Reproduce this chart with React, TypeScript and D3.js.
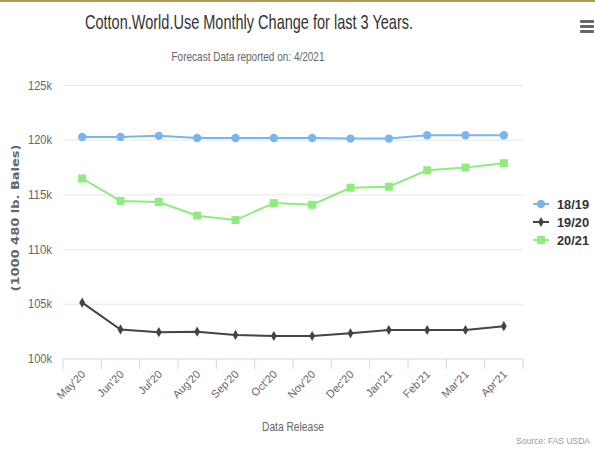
import React from 'react';
import * as d3 from 'd3';

const months = ["May'20", "Jun'20", "Jul'20", "Aug'20", "Sep'20", "Oct'20", "Nov'20", "Dec'20", "Jan'21", "Feb'21", "Mar'21", "Apr'21"];
const seriesNames = ['18/19', '19/20', '20/21'];
const use1819 = [120.3, 120.3, 120.4, 120.2, 120.2, 120.2, 120.2, 120.15, 120.15, 120.45, 120.45, 120.45];
const use1920 = [105.15, 102.7, 102.45, 102.5, 102.2, 102.1, 102.1, 102.35, 102.65, 102.65, 102.65, 103.0];
const use2021 = [116.5, 114.45, 114.35, 113.1, 112.7, 114.25, 114.1, 115.65, 115.75, 117.25, 117.5, 117.9];
const yTicks = [100, 105, 110, 115, 120, 125];
const colors = ['#7cb5ec', '#434348', '#90ed7d'];

const W = 595;
const H = 451;
const margin = { left: 63, right: 72, top: 85.5, bottom: 92 };

const font = '"Liberation Sans", Arial, sans-serif';

const App: React.FC = () => {
  const ref = React.useRef<SVGSVGElement>(null);

  React.useEffect(() => {
    const svg = d3.select(ref.current);
    svg.selectAll('*').remove();

    const x = d3.scaleBand().domain(months).range([margin.left, W - margin.right]);
    const y = d3.scaleLinear().domain([100, 125]).range([H - margin.bottom, margin.top]);
    const cx = (m: string) => (x(m) as number) + x.bandwidth() / 2;

    // top border
    svg.append('rect').attr('x', 0).attr('y', 0).attr('width', W).attr('height', 2).attr('fill', '#b5975a');

    // titles (condensed look via textLength)
    svg.append('text')
      .attr('x', 249).attr('y', 29)
      .attr('text-anchor', 'middle')
      .attr('font-family', font).attr('font-size', 21).attr('fill', '#333')
      .attr('textLength', 328).attr('lengthAdjust', 'spacingAndGlyphs')
      .text('Cotton.World.Use Monthly Change for last 3 Years.');
    svg.append('text')
      .attr('x', 248).attr('y', 61)
      .attr('text-anchor', 'middle')
      .attr('font-family', font).attr('font-size', 13).attr('fill', '#666')
      .attr('textLength', 153).attr('lengthAdjust', 'spacingAndGlyphs')
      .text('Forecast Data reported on: 4/2021');

    // menu icon
    [0, 5, 10].forEach(dy => {
      svg.append('rect').attr('x', 580).attr('y', 20 + dy).attr('width', 14).attr('height', 3)
        .attr('rx', 1).attr('fill', '#666');
    });

    // grid
    svg.append('g')
      .selectAll('line')
      .data(yTicks.filter(t => t !== 100))
      .join('line')
      .attr('x1', margin.left).attr('x2', W - margin.right)
      .attr('y1', d => y(d)).attr('y2', d => y(d))
      .attr('stroke', '#e6e6e6').attr('stroke-width', 1);

    // y axis labels
    svg.append('g')
      .selectAll('text')
      .data(yTicks)
      .join('text')
      .attr('x', 52).attr('y', d => y(d) + 4)
      .attr('text-anchor', 'end')
      .attr('font-family', font).attr('font-size', 12).attr('fill', '#666')
      .attr('textLength', 24).attr('lengthAdjust', 'spacingAndGlyphs')
      .text(d => `${d}k`);

    svg.append('text')
      .attr('transform', `translate(19, 218) rotate(-90)`)
      .attr('text-anchor', 'middle')
      .attr('font-family', 'Verdana, "DejaVu Sans", sans-serif').attr('font-size', 11)
      .attr('font-weight', 'bold').attr('fill', '#666')
      .attr('textLength', 147).attr('lengthAdjust', 'spacingAndGlyphs')
      .text('(1000 480 lb. Bales)');

    // x axis
    const xAxis = svg.append('g').attr('transform', `translate(0, ${H - margin.bottom})`);
    xAxis.append('line').attr('x1', margin.left).attr('x2', W - margin.right)
      .attr('stroke', '#ccd6eb');
    const edges = months.map(m => x(m) as number).concat([W - margin.right]);
    xAxis.selectAll('line.tick')
      .data(edges)
      .join('line')
      .attr('class', 'tick')
      .attr('x1', d => d).attr('x2', d => d)
      .attr('y1', 0).attr('y2', 10)
      .attr('stroke', '#ccd6eb');
    xAxis.selectAll('text.lbl')
      .data(months)
      .join('text')
      .attr('class', 'lbl')
      .attr('transform', m => `translate(${cx(m) + 4}, 16) rotate(-45)`)
      .attr('text-anchor', 'end')
      .attr('font-family', font).attr('font-size', 11).attr('fill', '#666')
      .text(m => m);

    svg.append('text')
      .attr('x', 293).attr('y', 431)
      .attr('text-anchor', 'middle')
      .attr('font-family', font).attr('font-size', 12.5).attr('fill', '#666')
      .attr('textLength', 62).attr('lengthAdjust', 'spacingAndGlyphs')
      .text('Data Release');

    svg.append('text')
      .attr('x', 590).attr('y', 444)
      .attr('text-anchor', 'end')
      .attr('font-family', font).attr('font-size', 8.5).attr('fill', '#999')
      .text('Source: FAS USDA');

    // series
    const allSeries = [use1819, use1920, use2021];
    const symbols = [d3.symbolCircle, d3.symbolDiamond, d3.symbolSquare];
    const symSizes = [55, 30, 64];
    const line = d3.line<number>()
      .x((_, i) => cx(months[i]))
      .y(d => y(d));

    allSeries.forEach((vals, si) => {
      const g = svg.append('g');
      g.append('path')
        .attr('d', line(vals) as string)
        .attr('fill', 'none')
        .attr('stroke', colors[si])
        .attr('stroke-width', 2);
      g.selectAll('path.pt')
        .data(vals)
        .join('path')
        .attr('class', 'pt')
        .attr('transform', (d, i) => `translate(${cx(months[i])}, ${y(d)})`)
        .attr('d', d3.symbol().type(symbols[si]).size(symSizes[si])() as string)
        .attr('fill', colors[si]);
    });

    // legend
    const legend = svg.append('g');
    seriesNames.forEach((name, i) => {
      const ly = 204 + i * 18;
      legend.append('line')
        .attr('x1', 533).attr('x2', 549)
        .attr('y1', ly).attr('y2', ly)
        .attr('stroke', colors[i]).attr('stroke-width', 2);
      legend.append('path')
        .attr('transform', `translate(541, ${ly})`)
        .attr('d', d3.symbol().type(symbols[i]).size(symSizes[i])() as string)
        .attr('fill', colors[i]);
      legend.append('text')
        .attr('x', 557).attr('y', ly + 4.5)
        .attr('font-family', font).attr('font-size', 13)
        .attr('font-weight', 'bold').attr('fill', '#333')
        .attr('textLength', 32).attr('lengthAdjust', 'spacingAndGlyphs')
        .text(name);
    });
  }, []);

  return (
    <svg ref={ref} width={W} height={H} style={{ display: 'block', position: 'absolute', left: 0, top: 0 }} />
  );
};

export default App;
